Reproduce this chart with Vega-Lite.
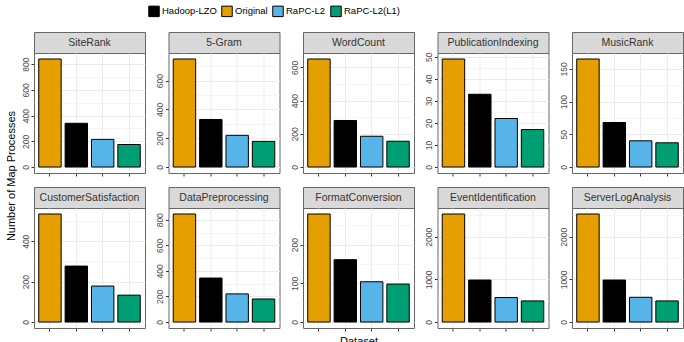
{
  "$schema": "https://vega.github.io/schema/vega-lite/v6.json",
  "padding": {"left": 5, "top": 5, "right": 4, "bottom": 0},
  "background": "white",
  "data": {
    "values": [
      {"dataset": "SiteRank", "system": "Original", "processes": 840},
      {"dataset": "SiteRank", "system": "Hadoop-LZO", "processes": 340},
      {"dataset": "SiteRank", "system": "RaPC-L2", "processes": 215},
      {"dataset": "SiteRank", "system": "RaPC-L2(L1)", "processes": 175},
      {"dataset": "5-Gram", "system": "Original", "processes": 750},
      {"dataset": "5-Gram", "system": "Hadoop-LZO", "processes": 330},
      {"dataset": "5-Gram", "system": "RaPC-L2", "processes": 220},
      {"dataset": "5-Gram", "system": "RaPC-L2(L1)", "processes": 178},
      {"dataset": "WordCount", "system": "Original", "processes": 650},
      {"dataset": "WordCount", "system": "Hadoop-LZO", "processes": 280},
      {"dataset": "WordCount", "system": "RaPC-L2", "processes": 185},
      {"dataset": "WordCount", "system": "RaPC-L2(L1)", "processes": 155},
      {"dataset": "PublicationIndexing", "system": "Original", "processes": 49},
      {"dataset": "PublicationIndexing", "system": "Hadoop-LZO", "processes": 33},
      {"dataset": "PublicationIndexing", "system": "RaPC-L2", "processes": 22},
      {"dataset": "PublicationIndexing", "system": "RaPC-L2(L1)", "processes": 17},
      {"dataset": "MusicRank", "system": "Original", "processes": 165},
      {"dataset": "MusicRank", "system": "Hadoop-LZO", "processes": 68},
      {"dataset": "MusicRank", "system": "RaPC-L2", "processes": 40},
      {"dataset": "MusicRank", "system": "RaPC-L2(L1)", "processes": 37},
      {"dataset": "CustomerSatisfaction", "system": "Original", "processes": 535},
      {"dataset": "CustomerSatisfaction", "system": "Hadoop-LZO", "processes": 277},
      {"dataset": "CustomerSatisfaction", "system": "RaPC-L2", "processes": 178},
      {"dataset": "CustomerSatisfaction", "system": "RaPC-L2(L1)", "processes": 133},
      {"dataset": "DataPreprocessing", "system": "Original", "processes": 845},
      {"dataset": "DataPreprocessing", "system": "Hadoop-LZO", "processes": 344},
      {"dataset": "DataPreprocessing", "system": "RaPC-L2", "processes": 220},
      {"dataset": "DataPreprocessing", "system": "RaPC-L2(L1)", "processes": 180},
      {"dataset": "FormatConversion", "system": "Original", "processes": 279},
      {"dataset": "FormatConversion", "system": "Hadoop-LZO", "processes": 161},
      {"dataset": "FormatConversion", "system": "RaPC-L2", "processes": 104},
      {"dataset": "FormatConversion", "system": "RaPC-L2(L1)", "processes": 98},
      {"dataset": "EventIdentification", "system": "Original", "processes": 2535},
      {"dataset": "EventIdentification", "system": "Hadoop-LZO", "processes": 985},
      {"dataset": "EventIdentification", "system": "RaPC-L2", "processes": 575},
      {"dataset": "EventIdentification", "system": "RaPC-L2(L1)", "processes": 495},
      {"dataset": "ServerLogAnalysis", "system": "Original", "processes": 2535},
      {"dataset": "ServerLogAnalysis", "system": "Hadoop-LZO", "processes": 985},
      {"dataset": "ServerLogAnalysis", "system": "RaPC-L2", "processes": 580},
      {"dataset": "ServerLogAnalysis", "system": "RaPC-L2(L1)", "processes": 495}
    ]
  },
  "title": {"text": "Number of Map Processes", "orient": "left", "anchor": "middle", "fontSize": 11, "fontWeight": "normal", "color": "#000000", "offset": 4},
  "columns": 5,
  "spacing": {"row": 9, "column": 8.5},
  "concat": [
    {
      "bounds": "flush", "spacing": 0,
      "vconcat": [
        {"width": 111, "height": 21, "view": {"fill": "#d9d9d9", "stroke": "#666666"},
         "transform": [{"filter": "datum.dataset === 'SiteRank' && datum.system === 'Original'"}],
         "mark": {"type": "text", "fontSize": 10.5, "color": "#333333"},
         "encoding": {"text": {"field": "dataset"}}},
        {"width": 111, "height": 120,
         "transform": [{"filter": "datum.dataset === 'SiteRank'"}],
         "mark": {"type": "bar", "stroke": "#000000", "strokeWidth": 1},
         "encoding": {
           "x": {"field": "system", "type": "nominal", "title": null, "sort": ["Original", "Hadoop-LZO", "RaPC-L2", "RaPC-L2(L1)"], "scale": {"paddingInner": 0.15, "paddingOuter": 0.18}},
           "y": {"field": "processes", "type": "quantitative", "title": null, "scale": {"nice": false, "padding": 6},
                 "axis": {"values": [0, 100, 200, 300, 400, 500, 600, 700, 800], "labelExpr": "datum.value % 200 === 0 ? '' + datum.value : ''",
                          "tickOpacity": {"condition": {"test": "datum.value % 200 !== 0", "value": 0}, "value": 1},
                          "gridWidth": {"condition": {"test": "datum.value % 200 !== 0", "value": 0.5}, "value": 1}}},
           "color": {"field": "system", "type": "nominal", "title": null}
         }}
      ]
    },
    {
      "bounds": "flush", "spacing": 0,
      "vconcat": [
        {"width": 111, "height": 21, "view": {"fill": "#d9d9d9", "stroke": "#666666"},
         "transform": [{"filter": "datum.dataset === '5-Gram' && datum.system === 'Original'"}],
         "mark": {"type": "text", "fontSize": 10.5, "color": "#333333"},
         "encoding": {"text": {"field": "dataset"}}},
        {"width": 111, "height": 120,
         "transform": [{"filter": "datum.dataset === '5-Gram'"}],
         "mark": {"type": "bar", "stroke": "#000000", "strokeWidth": 1},
         "encoding": {
           "x": {"field": "system", "type": "nominal", "title": null, "sort": ["Original", "Hadoop-LZO", "RaPC-L2", "RaPC-L2(L1)"], "scale": {"paddingInner": 0.15, "paddingOuter": 0.18}},
           "y": {"field": "processes", "type": "quantitative", "title": null, "scale": {"nice": false, "padding": 6},
                 "axis": {"values": [0, 100, 200, 300, 400, 500, 600, 700], "labelExpr": "datum.value % 200 === 0 ? '' + datum.value : ''",
                          "tickOpacity": {"condition": {"test": "datum.value % 200 !== 0", "value": 0}, "value": 1},
                          "gridWidth": {"condition": {"test": "datum.value % 200 !== 0", "value": 0.5}, "value": 1}}},
           "color": {"field": "system", "type": "nominal", "title": null}
         }}
      ]
    },
    {
      "bounds": "flush", "spacing": 0,
      "vconcat": [
        {"width": 111, "height": 21, "view": {"fill": "#d9d9d9", "stroke": "#666666"},
         "transform": [{"filter": "datum.dataset === 'WordCount' && datum.system === 'Original'"}],
         "mark": {"type": "text", "fontSize": 10.5, "color": "#333333"},
         "encoding": {"text": {"field": "dataset"}}},
        {"width": 111, "height": 120,
         "transform": [{"filter": "datum.dataset === 'WordCount'"}],
         "mark": {"type": "bar", "stroke": "#000000", "strokeWidth": 1},
         "encoding": {
           "x": {"field": "system", "type": "nominal", "title": null, "sort": ["Original", "Hadoop-LZO", "RaPC-L2", "RaPC-L2(L1)"], "scale": {"paddingInner": 0.15, "paddingOuter": 0.18}},
           "y": {"field": "processes", "type": "quantitative", "title": null, "scale": {"nice": false, "padding": 6},
                 "axis": {"values": [0, 100, 200, 300, 400, 500, 600], "labelExpr": "datum.value % 200 === 0 ? '' + datum.value : ''",
                          "tickOpacity": {"condition": {"test": "datum.value % 200 !== 0", "value": 0}, "value": 1},
                          "gridWidth": {"condition": {"test": "datum.value % 200 !== 0", "value": 0.5}, "value": 1}}},
           "color": {"field": "system", "type": "nominal", "title": null}
         }}
      ]
    },
    {
      "bounds": "flush", "spacing": 0,
      "vconcat": [
        {"width": 111, "height": 21, "view": {"fill": "#d9d9d9", "stroke": "#666666"},
         "transform": [{"filter": "datum.dataset === 'PublicationIndexing' && datum.system === 'Original'"}],
         "mark": {"type": "text", "fontSize": 10.5, "color": "#333333"},
         "encoding": {"text": {"field": "dataset"}}},
        {"width": 111, "height": 120,
         "transform": [{"filter": "datum.dataset === 'PublicationIndexing'"}],
         "mark": {"type": "bar", "stroke": "#000000", "strokeWidth": 1},
         "encoding": {
           "x": {"field": "system", "type": "nominal", "title": null, "sort": ["Original", "Hadoop-LZO", "RaPC-L2", "RaPC-L2(L1)"], "scale": {"paddingInner": 0.15, "paddingOuter": 0.18}},
           "y": {"field": "processes", "type": "quantitative", "title": null, "scale": {"nice": false, "padding": 6},
                 "axis": {"values": [0, 5, 10, 15, 20, 25, 30, 35, 40, 45, 50], "labelExpr": "datum.value % 10 === 0 ? '' + datum.value : ''",
                          "tickOpacity": {"condition": {"test": "datum.value % 10 !== 0", "value": 0}, "value": 1},
                          "gridWidth": {"condition": {"test": "datum.value % 10 !== 0", "value": 0.5}, "value": 1}}},
           "color": {"field": "system", "type": "nominal", "title": null}
         }}
      ]
    },
    {
      "bounds": "flush", "spacing": 0,
      "vconcat": [
        {"width": 111, "height": 21, "view": {"fill": "#d9d9d9", "stroke": "#666666"},
         "transform": [{"filter": "datum.dataset === 'MusicRank' && datum.system === 'Original'"}],
         "mark": {"type": "text", "fontSize": 10.5, "color": "#333333"},
         "encoding": {"text": {"field": "dataset"}}},
        {"width": 111, "height": 120,
         "transform": [{"filter": "datum.dataset === 'MusicRank'"}],
         "mark": {"type": "bar", "stroke": "#000000", "strokeWidth": 1},
         "encoding": {
           "x": {"field": "system", "type": "nominal", "title": null, "sort": ["Original", "Hadoop-LZO", "RaPC-L2", "RaPC-L2(L1)"], "scale": {"paddingInner": 0.15, "paddingOuter": 0.18}},
           "y": {"field": "processes", "type": "quantitative", "title": null, "scale": {"nice": false, "padding": 6},
                 "axis": {"values": [0, 25, 50, 75, 100, 125, 150], "labelExpr": "datum.value % 50 === 0 ? '' + datum.value : ''",
                          "tickOpacity": {"condition": {"test": "datum.value % 50 !== 0", "value": 0}, "value": 1},
                          "gridWidth": {"condition": {"test": "datum.value % 50 !== 0", "value": 0.5}, "value": 1}}},
           "color": {"field": "system", "type": "nominal", "title": null}
         }}
      ]
    },
    {
      "bounds": "flush", "spacing": 0,
      "vconcat": [
        {"width": 111, "height": 21, "view": {"fill": "#d9d9d9", "stroke": "#666666"},
         "transform": [{"filter": "datum.dataset === 'CustomerSatisfaction' && datum.system === 'Original'"}],
         "mark": {"type": "text", "fontSize": 10.5, "color": "#333333"},
         "encoding": {"text": {"field": "dataset"}}},
        {"width": 111, "height": 120,
         "transform": [{"filter": "datum.dataset === 'CustomerSatisfaction'"}],
         "mark": {"type": "bar", "stroke": "#000000", "strokeWidth": 1},
         "encoding": {
           "x": {"field": "system", "type": "nominal", "title": null, "sort": ["Original", "Hadoop-LZO", "RaPC-L2", "RaPC-L2(L1)"], "scale": {"paddingInner": 0.15, "paddingOuter": 0.18}},
           "y": {"field": "processes", "type": "quantitative", "title": null, "scale": {"nice": false, "padding": 6},
                 "axis": {"values": [0, 100, 200, 300, 400, 500], "labelExpr": "datum.value % 200 === 0 ? '' + datum.value : ''",
                          "tickOpacity": {"condition": {"test": "datum.value % 200 !== 0", "value": 0}, "value": 1},
                          "gridWidth": {"condition": {"test": "datum.value % 200 !== 0", "value": 0.5}, "value": 1}}},
           "color": {"field": "system", "type": "nominal", "title": null}
         }}
      ]
    },
    {
      "bounds": "flush", "spacing": 0,
      "vconcat": [
        {"width": 111, "height": 21, "view": {"fill": "#d9d9d9", "stroke": "#666666"},
         "transform": [{"filter": "datum.dataset === 'DataPreprocessing' && datum.system === 'Original'"}],
         "mark": {"type": "text", "fontSize": 10.5, "color": "#333333"},
         "encoding": {"text": {"field": "dataset"}}},
        {"width": 111, "height": 120,
         "transform": [{"filter": "datum.dataset === 'DataPreprocessing'"}],
         "mark": {"type": "bar", "stroke": "#000000", "strokeWidth": 1},
         "encoding": {
           "x": {"field": "system", "type": "nominal", "title": null, "sort": ["Original", "Hadoop-LZO", "RaPC-L2", "RaPC-L2(L1)"], "scale": {"paddingInner": 0.15, "paddingOuter": 0.18}},
           "y": {"field": "processes", "type": "quantitative", "title": null, "scale": {"nice": false, "padding": 6},
                 "axis": {"values": [0, 100, 200, 300, 400, 500, 600, 700, 800], "labelExpr": "datum.value % 200 === 0 ? '' + datum.value : ''",
                          "tickOpacity": {"condition": {"test": "datum.value % 200 !== 0", "value": 0}, "value": 1},
                          "gridWidth": {"condition": {"test": "datum.value % 200 !== 0", "value": 0.5}, "value": 1}}},
           "color": {"field": "system", "type": "nominal", "title": null}
         }}
      ]
    },
    {
      "bounds": "flush", "spacing": 0,
      "vconcat": [
        {"width": 111, "height": 21, "view": {"fill": "#d9d9d9", "stroke": "#666666"},
         "transform": [{"filter": "datum.dataset === 'FormatConversion' && datum.system === 'Original'"}],
         "mark": {"type": "text", "fontSize": 10.5, "color": "#333333"},
         "encoding": {"text": {"field": "dataset"}}},
        {"width": 111, "height": 120,
         "transform": [{"filter": "datum.dataset === 'FormatConversion'"}],
         "mark": {"type": "bar", "stroke": "#000000", "strokeWidth": 1},
         "encoding": {
           "x": {"field": "system", "type": "nominal", "title": "Dataset", "sort": ["Original", "Hadoop-LZO", "RaPC-L2", "RaPC-L2(L1)"], "scale": {"paddingInner": 0.15, "paddingOuter": 0.18}},
           "y": {"field": "processes", "type": "quantitative", "title": null, "scale": {"nice": false, "padding": 6},
                 "axis": {"values": [0, 50, 100, 150, 200, 250], "labelExpr": "datum.value % 100 === 0 ? '' + datum.value : ''",
                          "tickOpacity": {"condition": {"test": "datum.value % 100 !== 0", "value": 0}, "value": 1},
                          "gridWidth": {"condition": {"test": "datum.value % 100 !== 0", "value": 0.5}, "value": 1}}},
           "color": {"field": "system", "type": "nominal", "title": null}
         }}
      ]
    },
    {
      "bounds": "flush", "spacing": 0,
      "vconcat": [
        {"width": 111, "height": 21, "view": {"fill": "#d9d9d9", "stroke": "#666666"},
         "transform": [{"filter": "datum.dataset === 'EventIdentification' && datum.system === 'Original'"}],
         "mark": {"type": "text", "fontSize": 10.5, "color": "#333333"},
         "encoding": {"text": {"field": "dataset"}}},
        {"width": 111, "height": 120,
         "transform": [{"filter": "datum.dataset === 'EventIdentification'"}],
         "mark": {"type": "bar", "stroke": "#000000", "strokeWidth": 1},
         "encoding": {
           "x": {"field": "system", "type": "nominal", "title": null, "sort": ["Original", "Hadoop-LZO", "RaPC-L2", "RaPC-L2(L1)"], "scale": {"paddingInner": 0.15, "paddingOuter": 0.18}},
           "y": {"field": "processes", "type": "quantitative", "title": null, "scale": {"nice": false, "padding": 6},
                 "axis": {"values": [0, 500, 1000, 1500, 2000, 2500], "labelExpr": "datum.value % 1000 === 0 ? '' + datum.value : ''",
                          "tickOpacity": {"condition": {"test": "datum.value % 1000 !== 0", "value": 0}, "value": 1},
                          "gridWidth": {"condition": {"test": "datum.value % 1000 !== 0", "value": 0.5}, "value": 1}}},
           "color": {"field": "system", "type": "nominal", "title": null}
         }}
      ]
    },
    {
      "bounds": "flush", "spacing": 0,
      "vconcat": [
        {"width": 111, "height": 21, "view": {"fill": "#d9d9d9", "stroke": "#666666"},
         "transform": [{"filter": "datum.dataset === 'ServerLogAnalysis' && datum.system === 'Original'"}],
         "mark": {"type": "text", "fontSize": 10.5, "color": "#333333"},
         "encoding": {"text": {"field": "dataset"}}},
        {"width": 111, "height": 120,
         "transform": [{"filter": "datum.dataset === 'ServerLogAnalysis'"}],
         "mark": {"type": "bar", "stroke": "#000000", "strokeWidth": 1},
         "encoding": {
           "x": {"field": "system", "type": "nominal", "title": null, "sort": ["Original", "Hadoop-LZO", "RaPC-L2", "RaPC-L2(L1)"], "scale": {"paddingInner": 0.15, "paddingOuter": 0.18}},
           "y": {"field": "processes", "type": "quantitative", "title": null, "scale": {"nice": false, "padding": 6},
                 "axis": {"values": [0, 500, 1000, 1500, 2000, 2500], "labelExpr": "datum.value % 1000 === 0 ? '' + datum.value : ''",
                          "tickOpacity": {"condition": {"test": "datum.value % 1000 !== 0", "value": 0}, "value": 1},
                          "gridWidth": {"condition": {"test": "datum.value % 1000 !== 0", "value": 0.5}, "value": 1}}},
           "color": {"field": "system", "type": "nominal", "title": null}
         }}
      ]
    }
  ],
  "config": {
    "font": "Liberation Sans",
    "view": {"stroke": "#666666", "strokeWidth": 1},
    "range": {"category": ["#000000", "#E69F00", "#56B4E9", "#009E73"]},
    "axis": {
      "domain": false,
      "gridColor": "#ebebeb",
      "tickColor": "#333333",
      "tickSize": 3,
      "labelColor": "#4d4d4d",
      "labelFontSize": 8.5,
      "labelPadding": 1,
      "titleFontWeight": "normal",
      "titleFontSize": 11,
      "titleColor": "#000000",
      "titlePadding": 4
    },
    "axisX": {"labels": false, "bandPosition": 0.5, "grid": true},
    "axisY": {"labelAngle": 270, "grid": true},
    "legend": {
      "orient": "none",
      "direction": "horizontal",
      "legendX": 114,
      "legendY": -27,
      "symbolType": "square",
      "symbolSize": 110,
      "symbolStrokeColor": "#000000",
      "symbolStrokeWidth": 1,
      "labelFontSize": 9.5,
      "labelColor": "#000000",
      "columnPadding": 2,
      "labelOffset": 2
    }
  }
}
